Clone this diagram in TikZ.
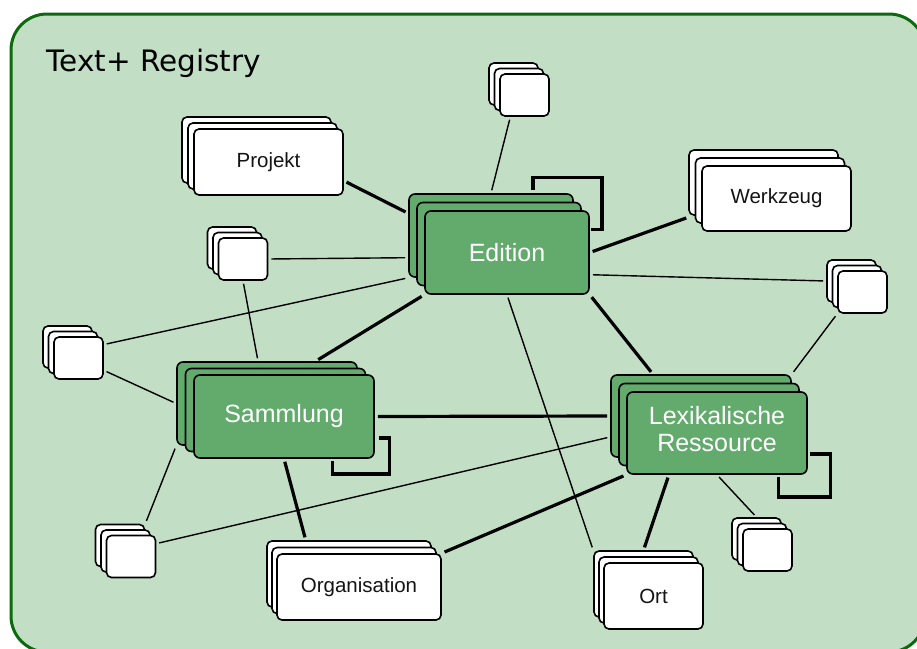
\documentclass[tikz,border=0pt]{standalone}
\usepackage{fontspec}
\setmainfont{Liberation Sans}
\newfontfamily\titlefont{DejaVu Sans}
\usetikzlibrary{calc}
\pgfdeclarelayer{frame}
\pgfdeclarelayer{edges}
\pgfsetlayers{frame,edges,main}

\definecolor{panelfill}{HTML}{C2DFC5}
\definecolor{panelrim}{HTML}{0B6A0B}
\definecolor{entityfill}{HTML}{63AA6D}

\tikzset{
  card/.style={draw=black, line width=1.6pt, rounded corners=5pt, fill=white,
    inner sep=0pt, text=black!92, font=\fontsize{20.5}{24}\selectfont},
  smallcard/.style={card, minimum width=49pt, minimum height=42pt},
  entity/.style={draw=black, line width=1.6pt, rounded corners=6pt, fill=entityfill,
    inner sep=0pt, text=white, align=center, font=\fontsize{25}{27}\selectfont},
  strong/.style={line width=3.2pt, shorten <=3pt, shorten >=3pt},
  weak/.style={line width=1.4pt, shorten <=3pt, shorten >=3pt},
  selfloop/.style={line width=3.2pt, line join=miter},
}

% three stacked copies: back (-b), middle (-m) and the labelled front node
\newcommand\cardstack[6]{%
  \node[#2] (#1-b) at ($(#3)+(-2*#4,-2*#5)$) {};
  \node[#2] (#1-m) at ($(#3)+(-#4,-#5)$) {};
  \node[#2] (#1) at (#3) {#6};
}

\begin{document}
\begin{tikzpicture}[x=1pt, y=-1pt]
\useasboundingbox (0,0) rectangle (917,648);

\begin{pgfonlayer}{frame}
  \begin{scope}
    \clip (0,0) rectangle (917,648);
    \draw[panelrim, fill=panelfill, line width=3pt, rounded corners=36pt]
      (11,14) rectangle (925,652);
  \end{scope}
\end{pgfonlayer}

\node[anchor=base west, font=\titlefont\fontsize{29.5}{34}\selectfont] (title)
  at (43,71) {Text+ Registry};

% main entity types
\cardstack{edition}{entity, minimum width=164pt, minimum height=83pt}{507,252.5}{8}{8.5}{Edition}
\cardstack{sammlung}{entity, minimum width=180pt, minimum height=83pt}{284,416.5}{8.5}{6.5}{Sammlung}
\cardstack{lexikal}{entity, minimum width=180pt, minimum height=82pt}{717,433}{8}{8.5}{\raisebox{3pt}{\begin{tabular}{@{}c@{}}Lexikalische\\Ressource\end{tabular}}}

% related records
\cardstack{projekt}{card, minimum width=149pt, minimum height=66pt}{268.5,162}{6}{6}{Projekt}
\cardstack{werkzeug}{card, minimum width=149pt, minimum height=65pt}{776.5,198.5}{6.5}{8}{Werkzeug}
\cardstack{organisation}{card, minimum width=164pt, minimum height=66pt}{359,587}{5}{6.5}{Organisation}
\cardstack{ort}{card, minimum width=99pt, minimum height=66pt}{653.5,596}{5}{6}{Ort}

% unlabelled records
\cardstack{s1}{smallcard}{524.5,95}{5.5}{5.5}{}
\cardstack{s2}{smallcard}{243,259}{5.5}{5.5}{}
\cardstack{s3}{smallcard}{78.5,358}{5.5}{5.5}{}
\cardstack{s4}{smallcard}{131,556.5}{5.5}{5.5}{}
\cardstack{s5}{smallcard}{862.5,292}{5.5}{5.5}{}
\cardstack{s6}{smallcard}{767.5,550}{5.5}{5.5}{}

% self references
\draw[selfloop] ([shift={(42,-3)}]edition-b.north) -- ++(0,-13) -- ++(69,0) -- ++(0,52) -- ++(-11,0);
\draw[selfloop] ([shift={(4,21.5)}]sammlung.east) -- ++(11,0) -- ++(0,36) -- ++(-57,0) -- ++(0,-13);
\draw[selfloop] ([shift={(2,21)}]lexikal.east) -- ++(21,0) -- ++(0,43) -- ++(-52,0) -- ++(0,-20);

\begin{pgfonlayer}{edges}
  % strong relations
  \draw[strong] (projekt.-14) -- (edition-b.165);
  \draw[strong, shorten >=9pt] (edition.east) -- (werkzeug-m.198);
  \draw[strong] (edition.south west) -- (sammlung-b.41);
  \draw[strong] (edition.south east) -- (lexikal-b.139);
  \draw[strong] (sammlung.east) -- (lexikal-b.west);
  \draw[strong] (sammlung.south) -- (organisation-b.142);
  \draw[strong] (lexikal.south west) -- (organisation.north east);
  \draw[strong] (lexikal.221) -- (ort-b.north);
  % weak relations
  \draw[weak] (s1.237) -- (edition-b.north);
  \draw[weak] (s2.east) -- (edition-b.195);
  \draw[weak] (s2.south) -- (sammlung-b.102);
  \draw[weak] (s3.28) -- (edition-b.south west);
  \draw[weak] (s3.-26) -- (sammlung-b.west);
  \draw[weak] (s4-b.north east) -- (sammlung-b.south west);
  \draw[weak] (s4.27) -- (lexikal-b.193);
  \draw[weak] (edition.-15) -- (s5-b.west);
  \draw[weak] (s5.south west) -- (lexikal-b.north east);
  \draw[weak] (lexikal.south) -- (s6-b.north);
  \draw[weak] (edition.south) -- (ort-b.north west);
\end{pgfonlayer}
\end{tikzpicture}
\end{document}
